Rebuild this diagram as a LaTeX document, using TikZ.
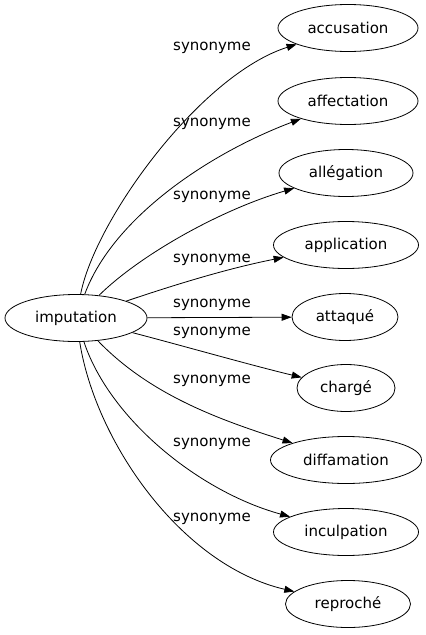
\documentclass[tikz,border=0pt]{standalone}
\usepackage{fontspec}
\setmainfont{DejaVu Sans}
\usetikzlibrary{shapes.geometric,arrows.meta}
\begin{document}
\begin{tikzpicture}[x=1pt,y=-1pt,
  word/.style={draw,ellipse,line width=0.8pt,inner sep=0pt,minimum height=47pt,font=\fontsize{15}{18}\selectfont},
  lbl/.style={font=\fontsize{15}{18}\selectfont,inner sep=0pt},
  edge/.style={line width=0.8pt,-{Triangle[length=10pt,width=7pt]}}]
\useasboundingbox (0,0) rectangle (426,635);
\node[word,minimum width=142pt] (imp) at (76,318) {imputation};
\node[word,minimum width=140pt] (acc) at (348,28) {accusation};
\node[word,minimum width=140pt] (aff) at (348,101) {affectation};
\node[word,minimum width=134pt] (all) at (346,173) {allégation};
\node[word,minimum width=145pt] (app) at (346,245) {application};
\node[word,minimum width=106pt] (att) at (345,317) {attaqué};
\node[word,minimum width=98pt] (cha) at (346,388) {chargé};
\node[word,minimum width=151pt] (dif) at (346,460) {diffamation};
\node[word,minimum width=145pt] (inc) at (346,532) {inculpation};
\node[word,minimum width=125pt] (rep) at (348,604) {reproché};
\draw[edge] (imp) .. controls (95,220) and (200,75) .. (acc);
\draw[edge] (imp) .. controls (112,220) and (205,155) .. (aff);
\draw[edge] (imp) .. controls (140,255) and (220,210) .. (all);
\draw[edge] (imp) .. controls (180,283) and (230,268) .. (app);
\draw[edge] (imp) -- (att);
\draw[edge] (imp) .. controls (180,345) and (250,365) .. (cha);
\draw[edge] (imp) .. controls (150,395) and (220,420) .. (dif);
\draw[edge] (imp) .. controls (110,420) and (200,492) .. (inc);
\draw[edge] (imp) .. controls (95,440) and (180,565) .. (rep);
\node[lbl] (l1) at (212,48) {synonyme};
\node[lbl] (l2) at (212,124) {synonyme};
\node[lbl] (l3) at (212,197) {synonyme};
\node[lbl] (l4) at (212,260) {synonyme};
\node[lbl] (l5) at (212,305) {synonyme};
\node[lbl] (l6) at (212,333) {synonyme};
\node[lbl] (l7) at (212,381) {synonyme};
\node[lbl] (l8) at (212,444) {synonyme};
\node[lbl] (l9) at (212,519) {synonyme};
\end{tikzpicture}
\end{document}
